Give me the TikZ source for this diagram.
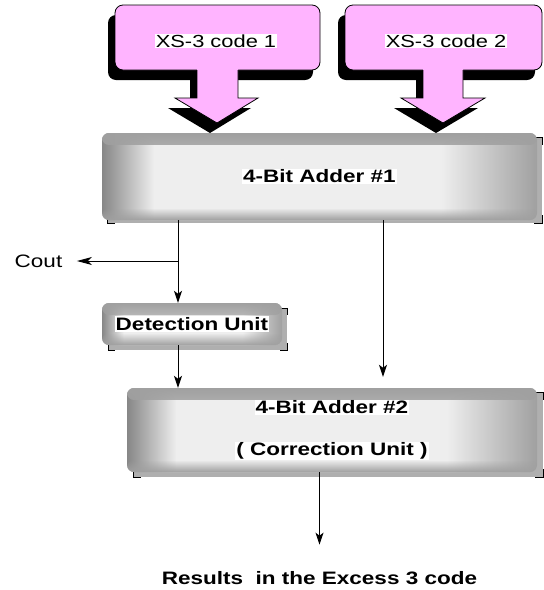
\documentclass[tikz,border=0pt]{standalone}
\usepackage{fontspec}
\setmainfont{Liberation Sans}
\usepackage{graphicx}
\usetikzlibrary{arrows.meta,fadings}
\definecolor{pinkfill}{RGB}{255,180,255}
\definecolor{bvA}{RGB}{135,135,135}
\definecolor{bvB}{RGB}{238,238,238}
\definecolor{bvC}{RGB}{160,160,160}
\definecolor{shd}{RGB}{175,175,175}
\pgfdeclarehorizontalshading{bevel}{100bp}{color(0bp)=(bvA); color(25bp)=(bvA); color(26.5bp)=(bvC); color(31bp)=(bvB); color(64bp)=(bvB); color(75bp)=(bvC); color(100bp)=(bvC)}
\tikzfading[name=fadetop, top color=transparent!0, bottom color=transparent!100]
\tikzfading[name=fadebot, top color=transparent!100, bottom color=transparent!0]
\newcommand{\hl}[1]{{\setlength{\fboxsep}{1pt}\colorbox{white}{\scalebox{1.25}[1]{#1}}}}
\newcommand{\hs}[1]{\scalebox{1.25}[1]{#1}}
\tikzset{
  bevelbox/.style={rounded corners=7pt, shade, shading=bevel, inner sep=0pt,
    font=\fontsize{18}{21}\selectfont\bfseries,
    path picture={
      \fill[bvC, path fading=fadetop] (path picture bounding box.north west) rectangle ([yshift=-12pt]path picture bounding box.north east);
      \fill[bvC, path fading=fadebot] (path picture bounding box.south west) rectangle ([yshift=12pt]path picture bounding box.south east);
    }},
  shadowbox/.style={fill=shd},
  corner/.style={black, line width=0.9pt},
  arr/.style={-{Stealth[length=12pt,width=8pt,inset=3pt]}, line width=0.9pt},
  arrh/.style={-{Stealth[length=15pt,width=8pt,inset=4pt]}, line width=0.9pt},
  codetext/.style={inner sep=0pt, font=\fontsize{17.5}{20}\selectfont},
}
\begin{document}
\begin{tikzpicture}[x=1pt,y=-1pt]
\useasboundingbox (0,0) rectangle (544,590);

% ---- callout shadows
\begin{scope}[shift={(-7,10)}]
  \fill[black, rounded corners=8pt] (115,5) rectangle (320,70);
  \fill[black] (197,69) -- (197,98) -- (175,98) -- (217,123) -- (258,98) -- (238,98) -- (238,69) -- cycle;
  \fill[black, rounded corners=8pt] (345,5) rectangle (542,70);
  \fill[black] (423,69) -- (423,98) -- (401,98) -- (443,123) -- (485,98) -- (463,98) -- (463,69) -- cycle;
\end{scope}

% ---- callouts
\draw[fill=pinkfill, line width=0.8pt, rounded corners=8pt] (115,5) rectangle (320,70);
\fill[pinkfill] (197,68) -- (197,98) -- (175,98) -- (217,123) -- (258,98) -- (238,98) -- (238,68) -- cycle;
\draw[line width=0.8pt] (197,70) -- (197,98) -- (175,98) -- (217,123) -- (258,98) -- (238,98) -- (238,70);
\draw[fill=pinkfill, line width=0.8pt, rounded corners=8pt] (345,5) rectangle (542,70);
\fill[pinkfill] (423,68) -- (423,98) -- (401,98) -- (443,123) -- (485,98) -- (463,98) -- (463,68) -- cycle;
\draw[line width=0.8pt] (423,70) -- (423,98) -- (401,98) -- (443,123) -- (485,98) -- (463,98) -- (463,70);
\node[codetext] (code1) at (216,41) {\hl{XS-3 code 1}};
\node[codetext] (code2) at (446,41) {\hl{XS-3 code 2}};

% ---- box shadows
\fill[shadowbox] (107,137) rectangle (542,223);
\draw[corner] (535,137) -- (542,137) -- (542,145);
\draw[corner] (542,215) -- (542,223) -- (534,223);
\draw[corner] (107,215) -- (107,223) -- (115,223);

\fill[shadowbox] (108,308) rectangle (287,350);
\draw[corner] (280,308) -- (287,308) -- (287,315);
\draw[corner] (287,343) -- (287,350) -- (280,350);
\draw[corner] (108,343) -- (108,350) -- (115,350);

\fill[shadowbox] (133,392) rectangle (543,477);
\draw[corner] (536,392) -- (543,392) -- (543,400);
\draw[corner] (543,469) -- (543,477) -- (535,477);
\draw[corner] (133,469) -- (133,477) -- (141,477);

% ---- boxes
\node[bevelbox, minimum width=435pt, minimum height=87pt] (adder1) at (319.5,176.5) {\hl{4-Bit Adder \#1}};
\node[bevelbox, minimum width=180pt, minimum height=42pt] (det) at (192,324) {\hl{Detection Unit}};
\node[bevelbox, minimum width=410pt, minimum height=84pt, align=center,
      font=\fontsize{18}{42}\selectfont\bfseries] (adder2) at (332,430)
      {\hl{4-Bit Adder \#2}\\\hl{( Correction Unit )}};

% ---- labels
\node[inner sep=0pt, font=\fontsize{18}{21}\selectfont] (cout) at (38.5,261) {\hs{Cout}};
\node[inner sep=0pt, font=\fontsize{18}{21}\selectfont\bfseries] (results) at (319.5,578) {\hs{Results\ \ in the Excess 3 code}};

% ---- connectors
\coordinate (br) at (178,261);
\coordinate (rx) at (383,300);
\draw[line width=0.9pt] (adder1.south -| br) -- (br);
\draw[arr] (br) -- (det.north -| br);
\draw[arrh, shorten >=14.5pt] (br) -- (cout);
\draw[arr] (det.south -| br) -- (adder2.north -| br);
\draw[arr, shorten >=11pt] (adder1.south -| rx) -- (adder2.north -| rx);
\draw[arr, shorten >=26.5pt] (adder2.south -| results) -- (results);
\end{tikzpicture}
\end{document}
